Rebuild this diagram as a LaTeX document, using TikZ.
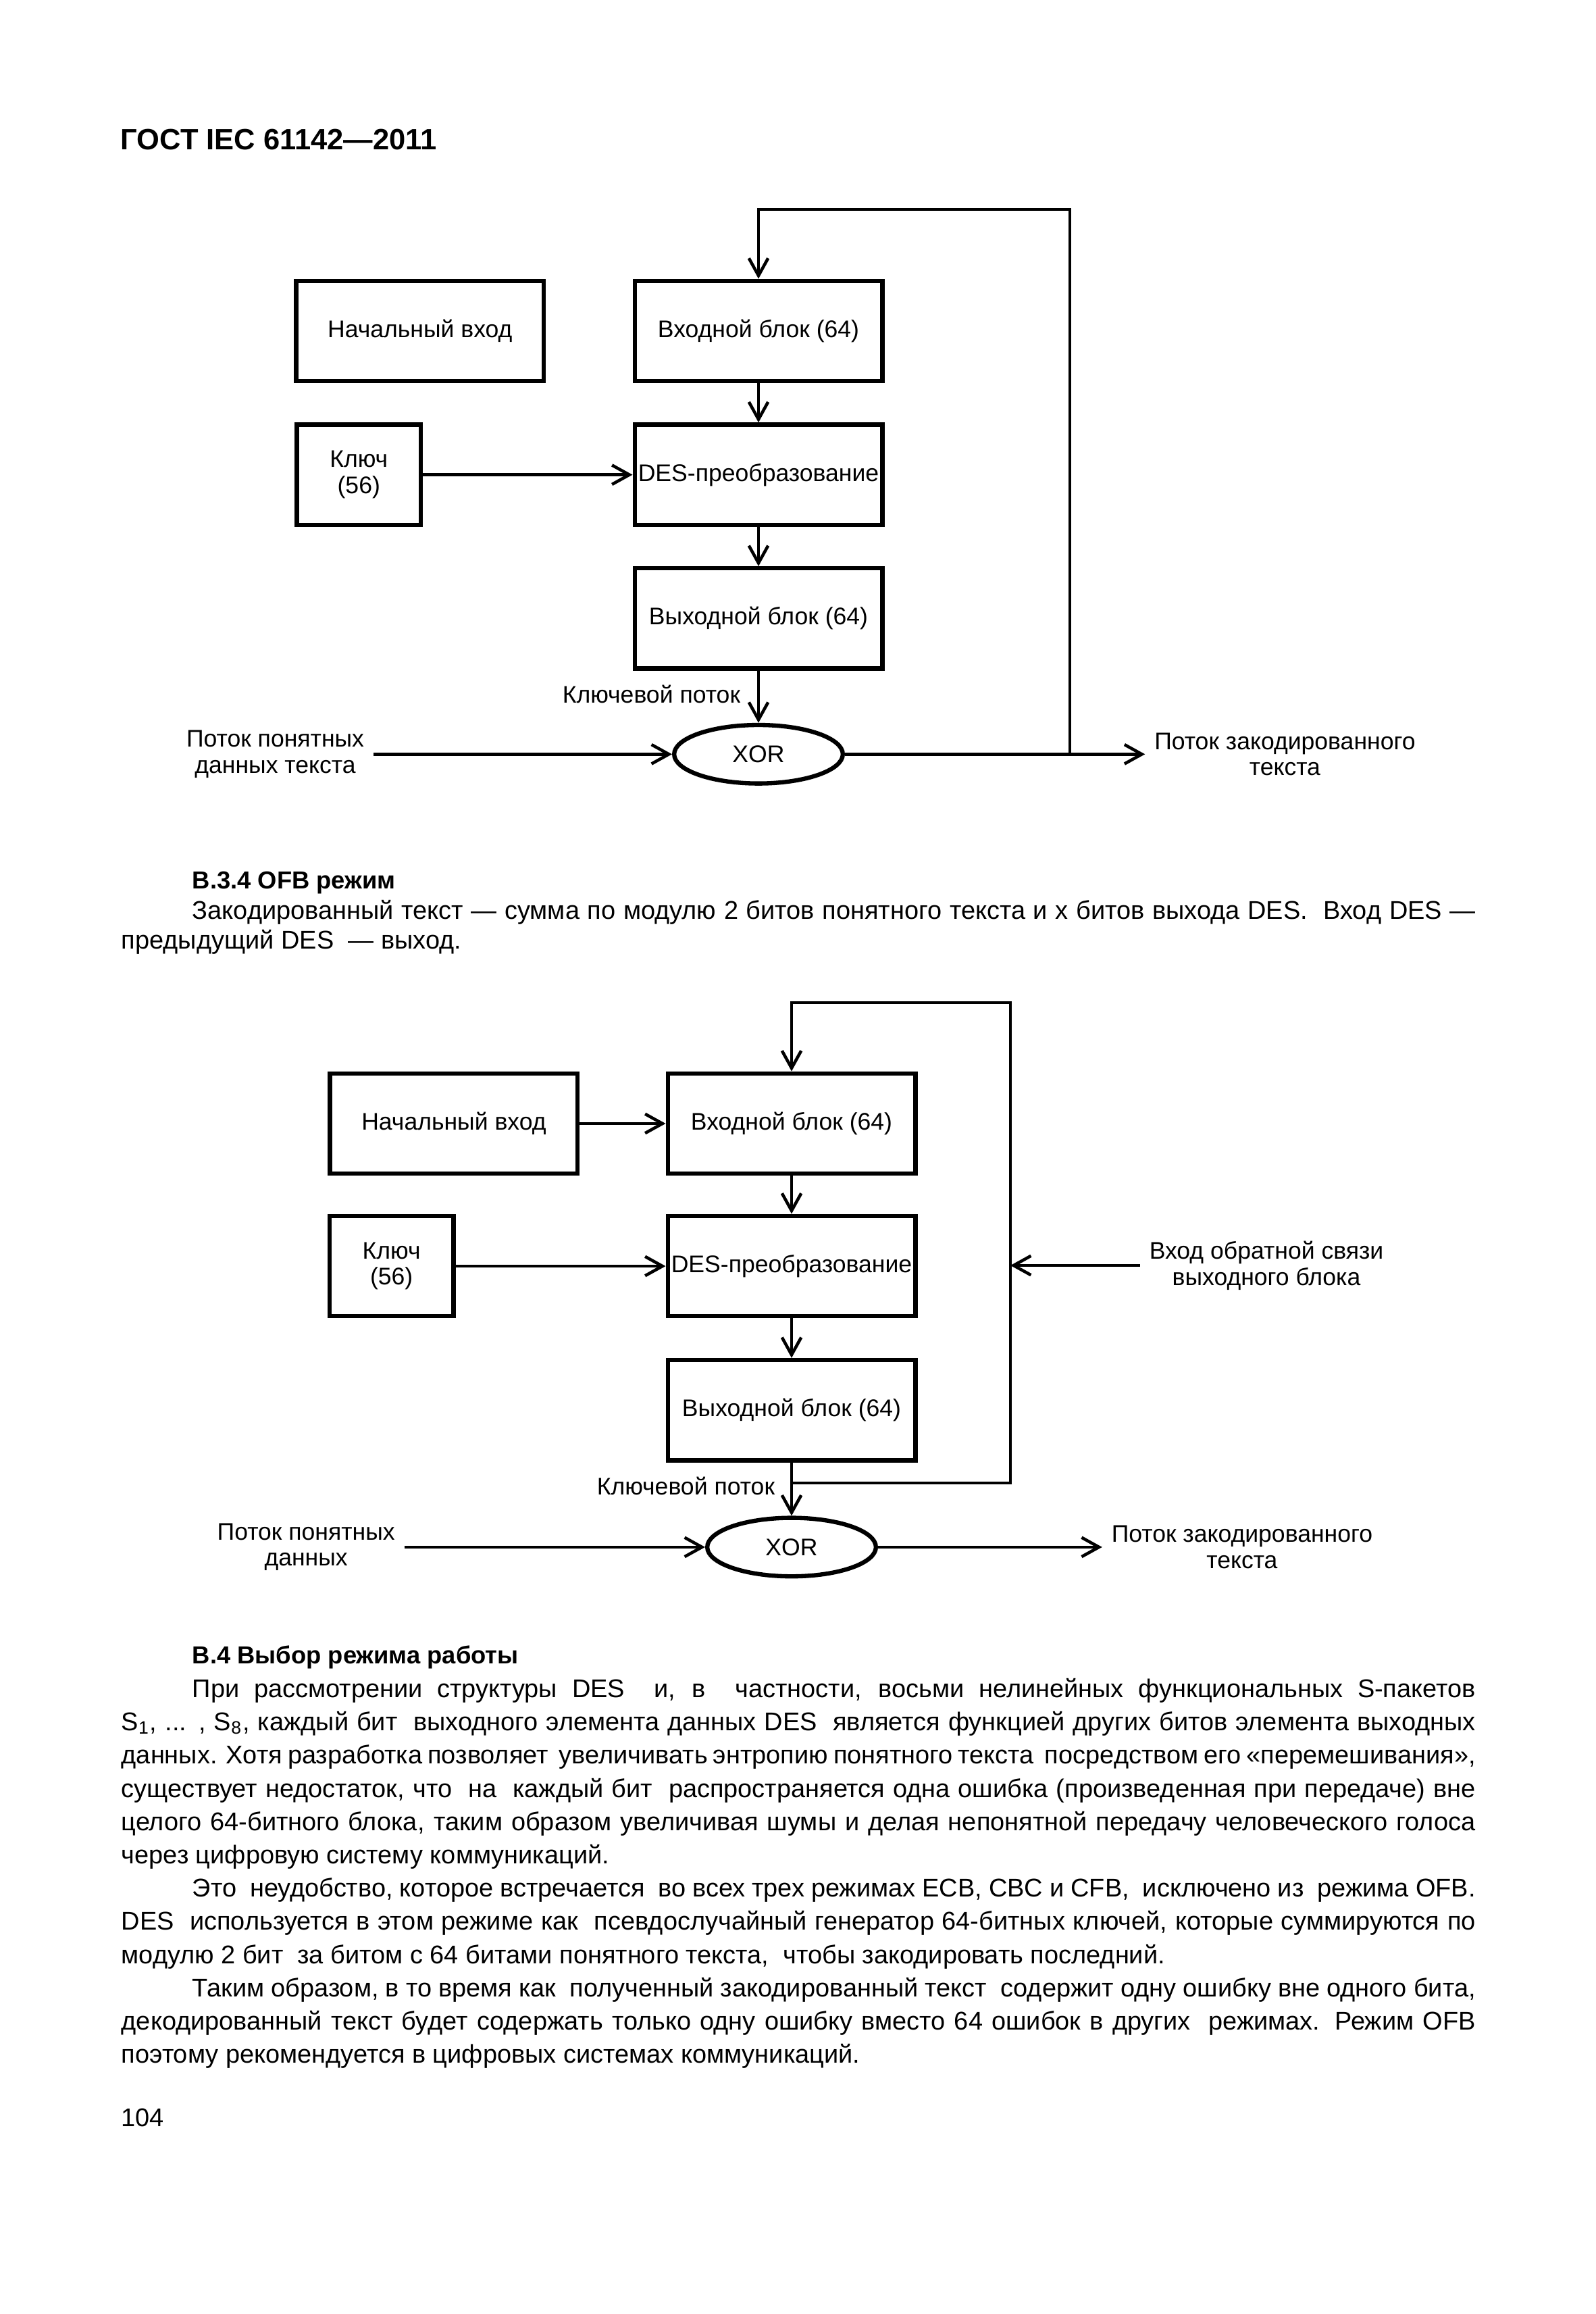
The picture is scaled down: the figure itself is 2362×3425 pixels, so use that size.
\documentclass[tikz,border=0pt]{standalone}
\usepackage{fontspec}
\setmainfont{Liberation Sans}
\usetikzlibrary{positioning,arrows.meta,shapes.geometric}

\newlength\fullw \setlength\fullw{178.26mm}
\newlength\indw  \setlength\indw{168.92mm}
\newcommand\jline[2]{\makebox[#1][s]{#2}}

\tikzset{
  blk/.style={draw, line width=1.6pt, minimum height=13.2mm, inner sep=0pt,
    align=center, font=\fontsize{9}{9.8}\selectfont},
  wideblk/.style={blk, minimum width=32.6mm},
  keyblk/.style={blk, minimum width=16.3mm},
  xorcell/.style={ellipse, draw, line width=1.6pt, minimum width=22.2mm,
    minimum height=7.7mm, inner sep=0pt, font=\fontsize{9}{9.8}\selectfont},
  lbl/.style={align=center, font=\fontsize{9}{9.8}\selectfont},
  arr/.style={line width=1.15pt, -{Straight Barb[length=6.5pt,width=7.2pt]}},
  body/.style={anchor=base west, inner sep=0pt, font=\fontsize{9.6}{12}\selectfont},
  bodyhead/.style={body, font=\fontsize{9.2}{12}\selectfont\bfseries},
  pagehead/.style={body, font=\fontsize{11}{13}\selectfont\bfseries}
}

\begin{document}
\begin{tikzpicture}[x=0.088907mm, y=-0.088907mm]
  \useasboundingbox (0,0) rectangle (2362,3425);
  \fill[white] (0,0) rectangle (2362,3425);

  \node[pagehead] (gost) at (178,222) {ГОСТ IEC 61142—2011};

  % upper scheme
  \node[wideblk] (in1) at (1123,490) {Входной блок (64)};
  \node[wideblk, left=11.4mm of in1] (init1) {Начальный вход};
  \node[wideblk, below=5.15mm of in1] (des1) {DES-преобразование};
  \node[keyblk, left=27.6mm of des1] (key1) {Ключ\\(56)};
  \node[wideblk, below=5.15mm of des1] (out1) {Выходной блок (64)};
  \node[xorcell, below=6.85mm of out1] (xor1) {XOR};
  \node[lbl, anchor=east] (ks1) at (1110,1027) {Ключевой поток};
  \node[lbl, left=39.3mm of xor1] (plain1) {Поток понятных\\данных текста};
  \node[lbl, right=39.5mm of xor1] (ct1) {Поток закодированного\\текста};
  \coordinate (fb1) at (1584,310);

  \draw[arr] (in1) -- (des1);
  \draw[arr] (des1) -- (out1);
  \draw[arr] (out1) -- (xor1);
  \draw[arr] (key1) -- (des1);
  \draw[arr] (plain1) -- (xor1);
  \draw[arr] (xor1) -- (ct1);
  \draw[arr] (xor1.east -| fb1) -- (fb1) -| (in1.north);

  \node[bodyhead] (s334) at (284,1315) {В.3.4 OFB режим};
  \node[body] (s334a) at (284,1360) {\jline{\indw}{Закодированный текст — сумма по модулю 2 битов понятного текста и x битов выхода DES.\ \ Вход DES\ —}};
  \node[body] (s334b) at (179,1404) {предыдущий DES\ \ — выход.};

  % lower scheme
  \node[wideblk] (in2) at (1172,1663) {Входной блок (64)};
  \node[wideblk, left=11.3mm of in2] (init2) {Начальный вход};
  \node[wideblk, below=5mm of in2] (des2) {DES-преобразование};
  \node[keyblk, left=27.65mm of des2] (key2) {Ключ\\(56)};
  \node[wideblk, below=5.2mm of des2] (out2) {Выходной блок (64)};
  \node[xorcell, below=7mm of out2] (xor2) {XOR};
  \node[lbl, anchor=east] (ks2) at (1161,2199) {Ключевой поток};
  \node[lbl, left=39.6mm of xor2] (plain2) {Поток понятных\\данных};
  \node[lbl, right=29.5mm of xor2] (ct2) {Поток закодированного\\текста};
  \node[lbl] (fbl2) at (1875,1873) {Вход обратной связи\\выходного блока};
  \coordinate (fb2) at (1496,1484);
  \coordinate (ksj2) at (out2.south |- 0,2195);

  \draw[arr] (init2) -- (in2);
  \draw[arr] (in2) -- (des2);
  \draw[arr] (key2) -- (des2);
  \draw[arr] (des2) -- (out2);
  \draw[arr] (out2) -- (xor2);
  \draw[arr] (plain2) -- (xor2);
  \draw[arr] (xor2) -- (ct2);
  \draw[arr] (ksj2) -| (fb2) -| (in2.north);
  \draw[arr] (fbl2) -- (fbl2 -| fb2);

  \node[bodyhead] (s4) at (284,2462) {В.4 Выбор режима работы};
  \node[body] (p1a) at (284,2512) {\jline{\indw}{При рассмотрении структуры DES\ \ и, в\ \ частности, восьми нелинейных функциональных S-пакетов}};
  \node[body] (p1b) at (179,2561) {\jline{\fullw}{S\textsubscript{1}, ... , S\textsubscript{8}, каждый бит\ \ выходного элемента данных DES\ \ является функцией других битов элемента выходных}};
  \node[body] (p1c) at (179,2610) {\jline{\fullw}{данных. Хотя разработка позволяет\ \ увеличивать энтропию понятного текста\ \ посредством его «перемешивания»,}};
  \node[body] (p1d) at (179,2660) {\jline{\fullw}{существует недостаток, что\ \ на\ \ каждый бит\ \ распространяется одна ошибка (произведенная при передаче) вне}};
  \node[body] (p1e) at (179,2709) {\jline{\fullw}{целого 64-битного блока, таким образом увеличивая шумы и делая непонятной передачу человеческого голоса}};
  \node[body] (p1f) at (179,2758) {через цифровую систему коммуникаций.};
  \node[body] (p2a) at (284,2807) {\jline{\indw}{Это\ \ неудобство, которое встречается\ \ во всех трех режимах ECB, CBC и CFB,\ \ исключено из\ \ режима OFB.}};
  \node[body] (p2b) at (179,2856) {\jline{\fullw}{DES\ \ используется в этом режиме как\ \ псевдослучайный генератор 64-битных ключей, которые суммируются по}};
  \node[body] (p2c) at (179,2906) {модулю 2 бит\ \ за битом с 64 битами понятного текста,\ \ чтобы закодировать последний.};
  \node[body] (p3a) at (284,2955) {\jline{\indw}{Таким образом, в то время как\ \ полученный закодированный текст\ \ содержит одну ошибку вне одного бита,}};
  \node[body] (p3b) at (179,3004) {\jline{\fullw}{декодированный текст будет содержать только одну ошибку вместо 64 ошибок в других\ \ режимах. Режим OFB}};
  \node[body] (p3c) at (179,3053) {поэтому рекомендуется в цифровых системах коммуникаций.};

  \node[body] (pg) at (179,3147) {104};
\end{tikzpicture}
\end{document}
